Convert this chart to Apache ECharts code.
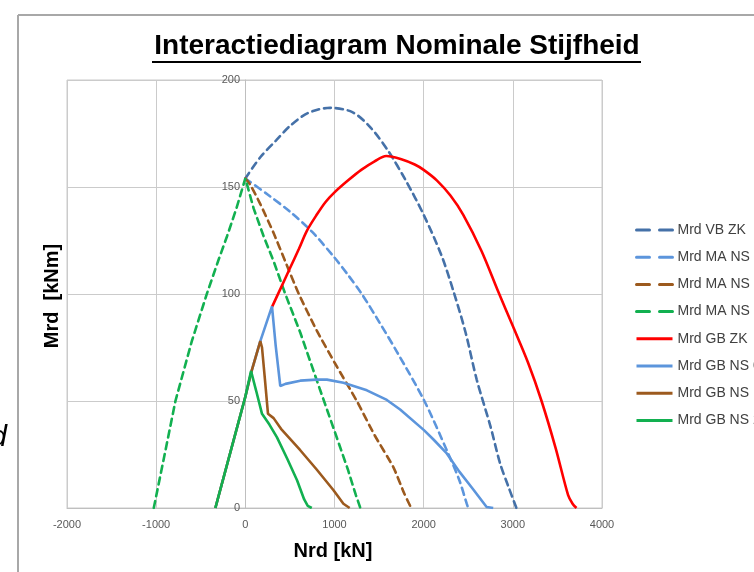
<!DOCTYPE html>
<html>
<head>
<meta charset="utf-8">
<script src="https://cdn.jsdelivr.net/npm/echarts@6/dist/echarts.min.js"></script>
<style>
  html, body { margin: 0; padding: 0; background: #fff; }
  #chart { width: 754px; height: 572px; }
</style>
</head>
<body>
<div id="chart"></div>
<script>
// Nrd [kN], Mrd [kNm]
const seriesNames = ['Mrd VB ZK', 'Mrd MA NS 0', 'Mrd MA NS 1', 'Mrd MA NS 2', 'Mrd GB ZK', 'Mrd GB NS 0', 'Mrd GB NS 1', 'Mrd GB NS 2'];

const vbZk = [[0,154],[170,164],[350,172],[500,178.5],[700,184.5],[950,187],[1200,185],[1400,178],[1600,167],[1800,153],[2000,137],[2200,118],[2340,100.5],[2470,82],[2595,60],[2750,38],[2856,21],[2950,10],[3040,0]];
const maNs0 = [[0,154],[250,146.5],[500,138.5],[750,129],[1000,117],[1150,109],[1306,100],[1500,87],[1700,73],[2008,50],[2259,27],[2400,13],[2483,2],[2500,0]];
const maNs1 = [[0,154],[56,151],[168,142],[317,128.5],[450,115],[600,100],[800,83],[1000,68],[1250,50],[1450,34],[1661,19],[1780,7],[1860,0]];
const maNs2 = [[-1027,0],[-900,26],[-784,50],[-600,78],[-429,100.4],[-300,116],[-205,127],[-100,140],[0,154],[93,140],[205,127],[320,115],[448,100],[616,82],[840,55],[1000,36],[1150,18],[1240,6],[1290,0]];
const gbZk = [[300,94],[400,103],[500,112],[600,121],[690,129.5],[800,137],[900,143],[1000,147.5],[1150,153],[1300,158],[1450,162],[1580,164.5],[1750,163],[1900,160.5],[2000,158],[2150,153],[2300,146],[2444,137],[2650,120],[2837,101],[3000,85],[3170,68],[3322,50],[3480,28],[3620,6],[3670,2],[3714,0]];
const gbNs0 = [[-336,0],[0,52],[70,64],[168,78],[299,94.2],[340,76],[392,57],[450,58],[616,59.5],[800,60],[915,60],[1100,58.5],[1363,55],[1587,50.5],[1736,46],[2000,36.5],[2110,32],[2259,25.5],[2400,17],[2550,9],[2706,0.5],[2780,0]];
const gbNs1 = [[-336,0],[0,52],[70,64],[168,78],[187,75],[220,60],[254,44],[317,42],[400,37],[616,27],[800,18],[989,8.3],[1100,2],[1170,0]];
const gbNs2 = [[-336,0],[0,52],[64,64],[120,55],[187,44],[270,39],[355,33],[470,23],[580,13],[660,4],[700,1],[745,0]];

const xTicks = { min: -2000, max: 4000, interval: 1000 };
const yTicks = { min: 0, max: 200, interval: 50 };

const seriesData = [vbZk, maNs0, maNs1, maNs2, gbZk, gbNs0, gbNs1, gbNs2];
const seriesColors = ['#4571a8', '#5c95dc', '#9c5a1e', '#12b050', '#ff0000', '#5c95dc', '#9c5a1e', '#12b050'];
const dashed = [true, true, true, true, false, false, false, false];
const smoothness = [0.3, 0.3, 0.2, 0, 0.3, 0, 0, 0];

const chart = echarts.init(document.getElementById('chart'));

const series = seriesNames.map((name, i) => ({
  name: name,
  type: 'line',
  data: seriesData[i],
  symbol: 'none',
  smooth: smoothness[i],
  color: seriesColors[i],
  lineStyle: {
    color: seriesColors[i],
    width: 2.6,
    type: dashed[i] ? [7, 5] : 'solid',
    cap: dashed[i] ? 'round' : 'butt'
  },
  emphasis: { disabled: true },
  animation: false
}));

const option = {
  backgroundColor: '#ffffff',
  animation: false,
  grid: {
    left: 67, right: 152, top: 80, bottom: 64,
    containLabel: false,
    outerBoundsMode: 'none',
    show: true,
    borderColor: '#cbcbcb',
    borderWidth: 1
  },
  legend: {
    orient: 'vertical',
    left: 635,
    top: 223,
    itemWidth: 36,
    itemHeight: 14,
    itemGap: 13.2,
    padding: 0,
    itemStyle: { opacity: 0 },
    textStyle: { fontFamily: 'Liberation Sans', fontSize: 14, lineHeight: 14, color: '#404040' },
    data: seriesNames.map((n, i) => ({
      name: n,
      itemStyle: { opacity: 0 },
      lineStyle: dashed[i] ? { type: [13, 10], width: 3 } : { width: 3 }
    }))
  },
  xAxis: {
    type: 'value',
    min: xTicks.min, max: xTicks.max, interval: xTicks.interval,
    axisLine: { show: true, onZero: true, lineStyle: { color: '#bfbfbf', width: 1 } },
    axisTick: { show: false },
    axisLabel: { margin: 11, fontFamily: 'Liberation Sans', fontSize: 11, color: '#595959', formatter: v => String(v) },
    splitLine: { show: true, lineStyle: { color: '#cbcbcb', width: 1 } }
  },
  yAxis: {
    type: 'value',
    min: yTicks.min, max: yTicks.max, interval: yTicks.interval,
    // the vertical axis stands at Nrd = 0
    offset: -178,
    axisLine: { show: true, onZero: false, lineStyle: { color: '#bfbfbf', width: 1 } },
    axisTick: { show: false },
    axisLabel: { margin: 5, fontFamily: 'Liberation Sans', fontSize: 11, color: '#595959', formatter: v => String(v) },
    splitLine: { show: true, lineStyle: { color: '#cbcbcb', width: 1 } }
  },
  graphic: [
    // outer frame of the embedded chart
    { type: 'line', shape: { x1: 18, y1: 15, x2: 754, y2: 15 }, style: { stroke: '#a8a8a8', lineWidth: 2 } },
    { type: 'line', shape: { x1: 18, y1: 15, x2: 18, y2: 572 }, style: { stroke: '#a8a8a8', lineWidth: 2 } },
    // stray text from the page next to it
    { type: 'text', x: 7, y: 438, style: { text: 'd', align: 'right', verticalAlign: 'middle', font: 'italic 30px "Liberation Sans"', fill: '#000' } },
    // title, underlined
    { type: 'text', x: 397, y: 46, style: { text: 'Interactiediagram Nominale Stijfheid', align: 'center', verticalAlign: 'middle', font: 'bold 28px "Liberation Sans Narrow", "Liberation Sans"', fill: '#000' } },
    { type: 'line', shape: { x1: 152, y1: 62, x2: 641, y2: 62 }, style: { stroke: '#000', lineWidth: 2 } },
    // axis names
    { type: 'text', x: 333, y: 551, style: { text: 'Nrd [kN]', align: 'center', verticalAlign: 'middle', font: 'bold 20px "Liberation Sans Narrow", "Liberation Sans"', fill: '#000' } },
    { type: 'text', x: 52, y: 296, rotation: Math.PI / 2, style: { text: 'Mrd  [kNm]', align: 'center', verticalAlign: 'middle', font: 'bold 20px "Liberation Sans Narrow", "Liberation Sans"', fill: '#000' } }
  ],
  series: series
};

chart.setOption(option);
</script>
</body>
</html>
